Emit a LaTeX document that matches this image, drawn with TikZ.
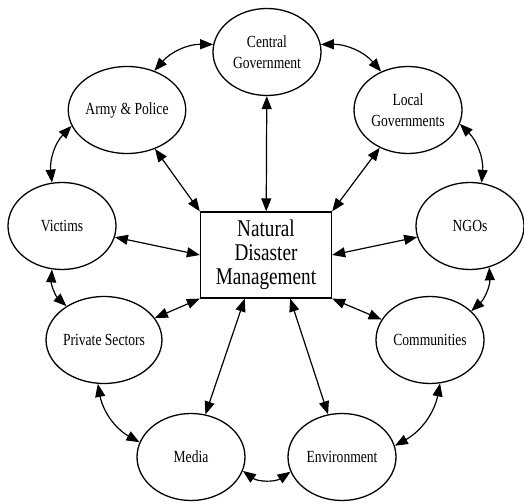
\documentclass[tikz,border=0pt]{standalone}
\usepackage{fontspec}
\setmainfont{Liberation Serif}[FakeStretch=0.8]
\usetikzlibrary{positioning}
\usetikzlibrary{calc}
\usetikzlibrary{arrows.meta}
\usetikzlibrary{shapes.geometric}

\begin{document}
\begin{tikzpicture}[x=1pt, y=1pt,
        ACT/.style={ellipse, draw=black!100, fill=white!100, line width=1.3pt, minimum width=108pt, minimum height=87pt, inner sep=0pt, align=center, font=\fontsize{17}{21}\selectfont},
        NDM/.style={rectangle, draw=black!100, fill=white!100, line width=1.3pt, minimum width=131pt, minimum height=86pt, align=center, font=\fontsize{24}{24}\selectfont},
        LNK/.style={{Triangle[length=13pt,width=10pt]}-{Triangle[length=13pt,width=10pt]}, line width=1.2pt},
        ]
            \useasboundingbox (0,0) rectangle (524,503);

            \node[NDM] (B0) at (266,248) {Natural\\Disaster\\Management};

            \node[ACT] (CG) at (267,451) {Central\\Government};
            \node[ACT] (AP) at (127,393) {Army \& Police};
            \node[ACT] (LG) at (408,393) {Local\\Governments};
            \node[ACT] (VI) at (62,277)  {Victims};
            \node[ACT] (NG) at (470,277) {NGOs};
            \node[ACT] (PS) at (104,163) {Private Sectors};
            \node[ACT] (CO) at (430,163) {Communities};
            \node[ACT] (ME) at (191,46)  {Media};
            \node[ACT] (EN) at (342,46)  {Environment};

            % spokes
            \draw[LNK] (CG) -- (B0);
            \draw[LNK] (AP) -- (B0.north west);
            \draw[LNK] (LG) -- (B0.north east);
            \draw[LNK] (VI) -- (B0.west);
            \draw[LNK] (NG) -- (B0.east);
            \draw[LNK] (PS) -- (B0.south west);
            \draw[LNK] (CO) -- (B0.south east);
            \draw[LNK] (ME) -- (B0.244);
            \draw[LNK] (EN) -- (B0.299);

            % ring
            \draw[LNK] (AP.55)  to[bend left=25] (CG.172);
            \draw[LNK] (CG.8)   to[bend left=25] (LG.125);
            \draw[LNK] (LG.345) to[bend left=25] (NG.75);
            \draw[LNK] (NG.295) to[bend left=25] (CO.35);
            \draw[LNK] (CO.283) to[bend left=25] (EN.12);
            \draw[LNK] (EN.196) to[bend left=35] (ME.345);
            \draw[LNK] (ME.164) to[bend left=25] (PS.262);
            \draw[LNK] (PS.138) to[bend left=25] (VI.257);
            \draw[LNK] (VI.103) to[bend left=25] (AP.196);
        \end{tikzpicture}
\end{document}
